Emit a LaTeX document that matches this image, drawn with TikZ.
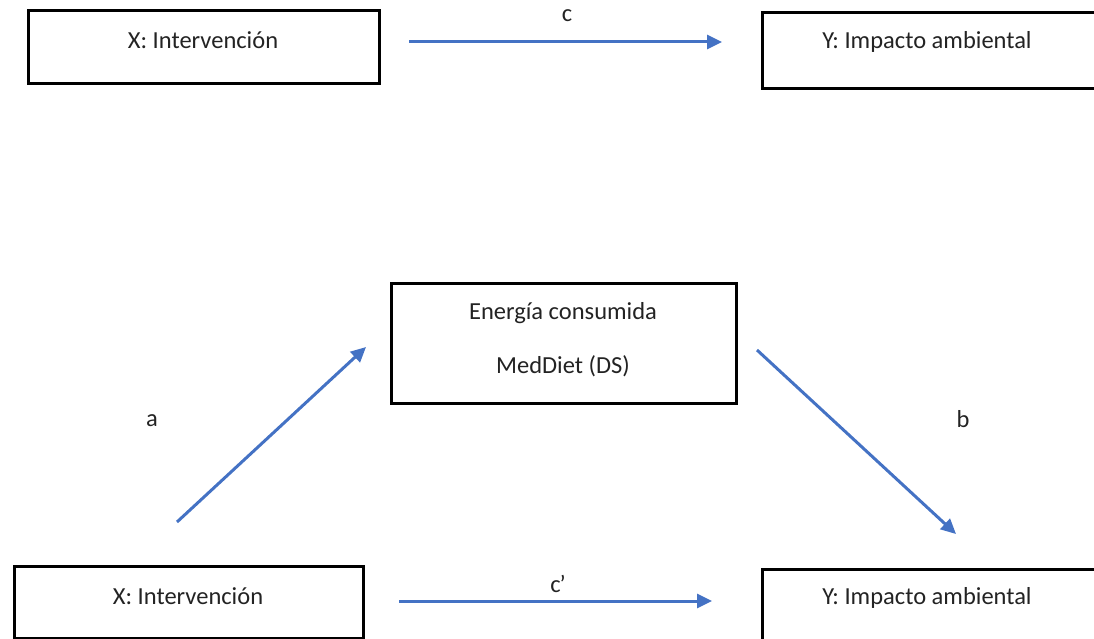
\documentclass[tikz,border=0pt]{standalone}
\usepackage{fontspec}
\setmainfont{Carlito}
\usetikzlibrary{arrows.meta}
\definecolor{arrowblue}{RGB}{68,114,196}
\definecolor{txt}{RGB}{35,35,35}
\tikzset{
  box/.style={draw=black, line width=3.4pt, fill=white, inner sep=0pt, anchor=north west},
  lbl/.style={text=txt, font=\fontsize{24.5}{28}\selectfont, inner sep=0pt},
  conn/.style={draw=arrowblue, line width=3pt, -{Triangle[length=15pt,width=14pt]}},
}
\begin{document}
\begin{tikzpicture}[x=1pt,y=-1pt]
\useasboundingbox (0,0) rectangle (1094,639);
% boxes
\node[box, minimum width=351pt, minimum height=73pt] (X1) at (27,9) {};
\node[box, minimum width=345pt, minimum height=76pt] (Y1) at (761,11) {};
\node[box, minimum width=345pt, minimum height=120pt] (M) at (390,282) {};
\node[box, minimum width=349pt, minimum height=72pt] (X2) at (13,565) {};
\node[box, minimum width=345pt, minimum height=90pt] (Y2) at (761,568) {};
% texts
\node[lbl] (X1t) at (203,40) {X: Intervención};
\node[lbl] (Y1t) at (927,42) {Y: Impacto ambiental};
\node[lbl] (Mt1) at (563,313) {Energía consumida};
\node[lbl] (Mt2) at (563,366) {MedDiet (DS)};
\node[lbl] (X2t) at (188,596) {X: Intervención};
\node[lbl] (Y2t) at (927,598) {Y: Impacto ambiental};
% edge labels
\node[lbl] (lc) at (567,16) {c};
\node[lbl] (la) at (152,421) {a};
\node[lbl] (lb) at (963,419) {b};
\node[lbl] (lcp) at (558,584) {c\kern-1pt\char"2019};
% arrow endpoints
\coordinate (c1) at (409,42);
\coordinate (c2) at (722,42);
\coordinate (a1) at (177,522);
\coordinate (a2) at (366,347);
\coordinate (b1) at (757,350);
\coordinate (b2) at (956,534);
\coordinate (d1) at (399,601);
\coordinate (d2) at (712,601);
\draw[conn] (c1) -- (c2);
\draw[conn] (a1) -- (a2);
\draw[conn] (b1) -- (b2);
\draw[conn] (d1) -- (d2);
\end{tikzpicture}
\end{document}
